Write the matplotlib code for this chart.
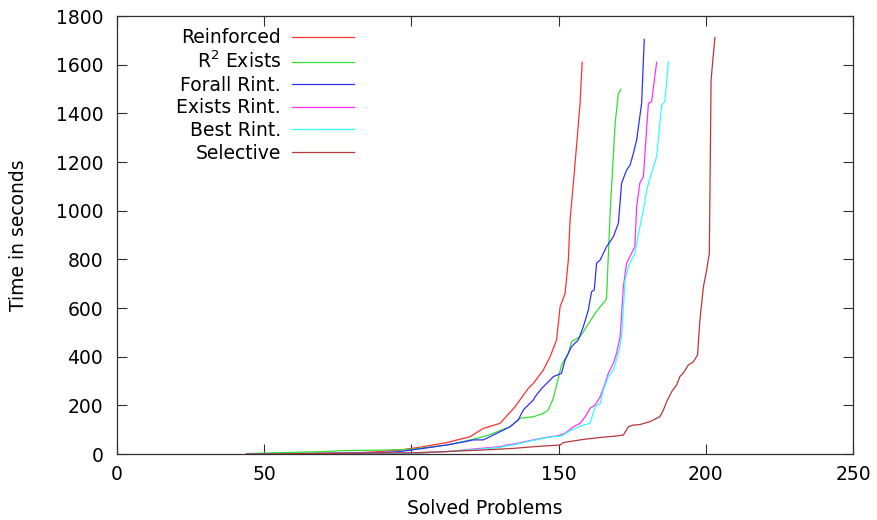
import matplotlib
matplotlib.use("Agg")
import matplotlib.pyplot as plt

# solved problems (x) vs. time in seconds (y)
reinforced_n = [44, 60, 80, 89.3, 96, 104, 112, 119.9, 124.4, 130.1, 135.2, 139.7, 141.4, 144.8,
                147.1, 149.3, 150.5, 152.2, 153.3, 153.9, 155.6, 157.3, 158.0]
reinforced_t = [0, 1, 4, 10, 16, 30, 47, 71, 105, 126, 194, 270, 290, 345,
                400, 468, 605, 660, 797, 962, 1195, 1442, 1610]

r2_n = [44, 70, 77, 89.3, 99.5, 112, 117.6, 124.4, 127.8, 133.5, 136.9, 141.4, 144.8, 146.5,
        148.2, 151.0, 153.3, 154.4, 157.3, 159.5, 162.4, 164.1, 166.1, 166.3, 167.5, 169.2,
        170.3, 171.2]
r2_t = [2, 10, 14, 16, 19, 37, 51, 71, 85, 112, 147, 153, 167, 181,
        229, 366, 414, 462, 482, 523, 578, 605, 633, 647, 989, 1359,
        1482, 1499]

forall_n = [44, 89.3, 96, 104, 112, 116.5, 121.1, 124.4, 129, 133.5, 136.3, 138, 141.4, 142,
            144.3, 147.1, 148.2, 151, 152.2, 154.4, 156.7, 158.4, 160.1, 161.2, 162.1, 162.9,
            164.1, 166.3, 168.6, 170.3, 171.4, 173.1, 174.3, 175.4, 176.5, 178.2, 179.1]
forall_t = [0, 5, 10, 23, 37, 47, 58, 58, 85, 112, 140, 181, 222, 235,
            270, 304, 318, 332, 386, 441, 469, 523, 592, 667, 674, 784,
            797, 852, 893, 948, 1113, 1167, 1188, 1236, 1290, 1441, 1704]

exists_n = [44, 100.6, 112, 123.3, 130.1, 132.4, 135.8, 139.1, 141.4, 147.1, 149.4, 152.2,
            155, 157.3, 159, 160.7, 162.4, 164.1, 165.8, 166.9, 168.6, 169.7, 170.9, 172,
            173.1, 174.8, 175.9, 176.5, 177.6, 178.8, 180.5, 181.6, 183.3]
exists_t = [0, 3, 10, 23, 30, 37, 43, 52, 58, 71, 74, 85,
            112, 126, 153, 188, 201, 235, 290, 332, 373, 414, 482, 688,
            784, 825, 852, 1017, 1113, 1140, 1441, 1448, 1610]

best_n = [44, 100.6, 112, 123.3, 130.1, 132.4, 135.8, 139.1, 141.4, 147.1, 151, 154.4, 158.4,
          160.7, 162.4, 164.1, 165.2, 166.9, 168.6, 170.3, 171.4, 172.6, 173.7, 175.9, 177.6,
          178.8, 179.9, 182.2, 183.3, 185, 186.1, 187.3]
best_t = [0, 3, 10, 20, 27, 34, 40, 50, 56, 70, 74, 99, 119,
          126, 194, 208, 263, 318, 345, 414, 482, 715, 770, 825, 934,
          1003, 1085, 1181, 1222, 1434, 1448, 1610]

selective_n = [44, 100.6, 112, 123.3, 134.6, 141.4, 150.5, 151.6, 157.3, 158.4, 164.1, 169.7,
               172, 173.7, 175.4, 177.6, 181, 183.3, 184.4, 185.6, 186.7, 188.4, 190.1, 191.2,
               192.3, 194.1, 195.8, 197.2, 198, 199.2, 200.3, 201.2, 201.8, 202.3, 203.1]
selective_t = [0, 5, 10, 16, 23, 30, 37, 47, 58, 60, 68, 74,
               78, 112, 119, 121, 133, 147, 153, 181, 215, 256, 284, 318,
               332, 366, 379, 407, 551, 688, 756, 825, 1537, 1606, 1712]

labels = ["Reinforced", "R$^2$ Exists", "Forall Rint.", "Exists Rint.", "Best Rint.", "Selective"]
colors = ["#ff3030", "#30e030", "#3030ff", "#ff30ff", "#30ffff", "#b83838"]

series = [(reinforced_n, reinforced_t), (r2_n, r2_t), (forall_n, forall_t),
          (exists_n, exists_t), (best_n, best_t), (selective_n, selective_t)]

plt.rcParams['font.family'] = ['DejaVu Sans']
fig = plt.figure(figsize=(8.78, 5.2), dpi=100)
ax = fig.add_axes([0.1333, 0.1269, 0.8382, 0.8423])

for (n, t), lab, c in zip(series, labels, colors):
    ax.plot(n, t, color=c, lw=0.9, label=lab)

ax.set_xlim(0, 250)
ax.set_ylim(0, 1800)
ax.set_xticks(range(0, 251, 50))
ax.set_yticks(range(0, 1801, 200))
ax.tick_params(direction='in', length=7, width=0.8, top=True, right=True,
               labelsize=13.5, color='#303030')
ax.tick_params(axis='y', pad=10)
ax.tick_params(axis='x', pad=8)
for s in ax.spines.values():
    s.set_linewidth(0.9)
    s.set_color('#303030')

ax.set_xlabel("Solved Problems", fontsize=13.5, labelpad=11)
ax.set_ylabel("Time in seconds", fontsize=13.5, labelpad=20)

leg = ax.legend(loc='upper right', bbox_to_anchor=(0.322, 0.972), frameon=False,
                markerfirst=False, fontsize=13.5, handlelength=3.3, handletextpad=0.6,
                labelspacing=0.19, borderpad=0, borderaxespad=0)

fig.savefig("out.png", dpi=100)
